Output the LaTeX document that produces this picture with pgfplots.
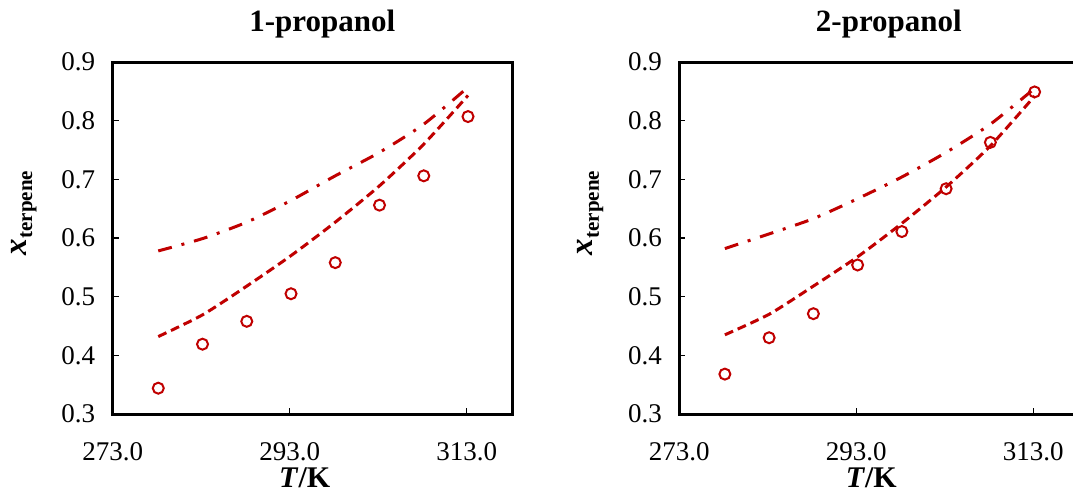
\documentclass[border=0pt]{standalone}
\usepackage{fontspec}
\setmainfont{Liberation Serif}
\usepackage{pgfplots}
\pgfplotsset{compat=1.18}
\definecolor{dred}{HTML}{C00000}

\pgfplotsset{
  panel/.style={
    scale only axis, width=400pt, height=352pt,
    xmin=273, xmax=318.2, ymin=0.3, ymax=0.9,
    xtick={273,293,313}, ytick={0.3,0.4,0.5,0.6,0.7,0.8,0.9},
    xtick pos=left, ytick pos=left, tick align=inside,
    major tick length=6pt,
    tick style={black, line width=1.5pt},
    axis line style={black, line width=3pt},
    /pgf/number format/assume math mode=true,
    xticklabel style={/pgf/number format/.cd, fixed, fixed zerofill, precision=1, /tikz/.cd,
      font=\fontsize{27}{29}\selectfont, yshift=-25pt},
    yticklabel style={/pgf/number format/.cd, fixed, fixed zerofill, precision=1, /tikz/.cd,
      font=\fontsize{27}{29}\selectfont, xshift=-14pt},
    title style={at={(axis description cs:0.524,1.071)}, anchor=base, inner sep=0pt,
      font=\bfseries\fontsize{31}{34}\selectfont},
    xlabel style={at={(axis description cs:0.48,-0.21)}, anchor=base, inner sep=0pt,
      font=\bfseries\fontsize{30}{33}\selectfont},
    ylabel style={at={(axis description cs:-0.222,0.571)}, anchor=center, inner sep=0pt},
    xlabel={\textit{T}/K},
    ylabel={\bfseries{\fontsize{33}{35}\selectfont\textit{x}}{\fontsize{21}{22}\selectfont\raisebox{-6pt}{terpene}}},
  },
  expt/.style={only marks, mark=o, mark size=5.5pt, dred, mark options={line width=2pt}},
  modA/.style={no markers, dred, line width=3pt, smooth, tension=0.4, dash pattern=on 9pt off 5pt},
  modB/.style={no markers, dred, line width=3pt, smooth, tension=0.4, dash pattern=on 14pt off 10pt on 3pt off 10pt},
}

\begin{document}
\begin{tikzpicture}
\useasboundingbox (0,0) rectangle (1073pt,493pt);
\clip (0,0) rectangle (1073pt,493pt);

% 1-propanol
\begin{axis}[panel, at={(112.7pt,79pt)}, anchor=south west, title={1-propanol}]
\addplot[modB] coordinates {
  (278.15,0.578) (283.15,0.599) (288.15,0.627) (293.15,0.664)
  (298.15,0.706) (303.15,0.746) (308.15,0.794) (313.15,0.857)
};
\addplot[modA] coordinates {
  (278.15,0.432) (283.15,0.469) (288.15,0.518) (293.15,0.570)
  (298.15,0.627) (303.15,0.689) (308.15,0.760) (313.15,0.843)
};
\addplot[expt] coordinates {
  (278.15,0.344) (283.15,0.419) (288.15,0.458) (293.15,0.505)
  (298.15,0.558) (303.15,0.656) (308.15,0.706) (313.15,0.807)
};
\end{axis}

% 2-propanol
\begin{axis}[panel, at={(679.3pt,79pt)}, anchor=south west, title={2-propanol}]
\addplot[modB] coordinates {
  (278.15,0.582) (283.15,0.607) (288.15,0.633) (293.15,0.667)
  (298.15,0.704) (303.15,0.746) (308.15,0.794) (313.15,0.855)
};
\addplot[modA] coordinates {
  (278.15,0.435) (283.15,0.470) (288.15,0.518) (293.15,0.568)
  (298.15,0.625) (303.15,0.687) (308.15,0.757) (313.15,0.842)
};
\addplot[expt] coordinates {
  (278.15,0.368) (283.15,0.430) (288.15,0.471) (293.15,0.554)
  (298.15,0.611) (303.15,0.684) (308.15,0.763) (313.15,0.849)
};
\end{axis}
\end{tikzpicture}
\end{document}
